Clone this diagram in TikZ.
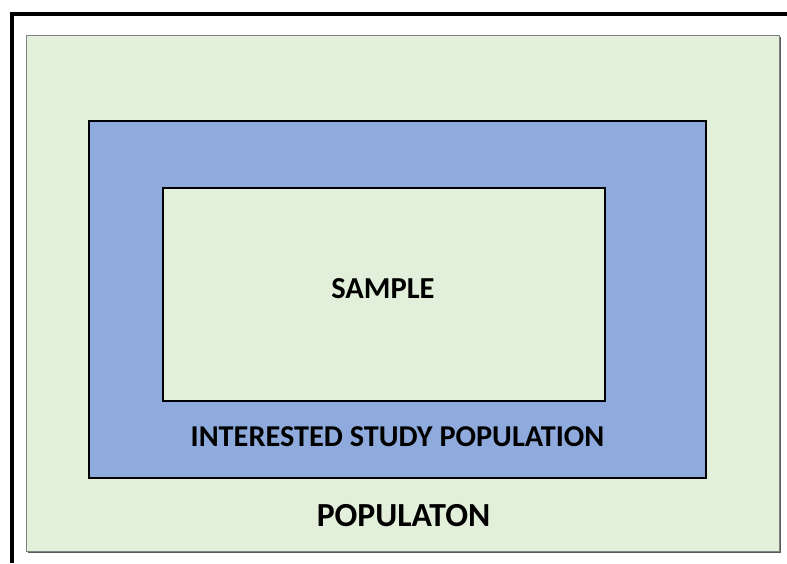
\documentclass[tikz,border=0pt]{standalone}
\usepackage{fontspec}
\setmainfont{Carlito}
\definecolor{palegreen}{HTML}{E2EFDA}
\definecolor{midblue}{HTML}{8FAADC}
\definecolor{framegray}{HTML}{808080}
\tikzset{
  lbl/.style={font=\bfseries, text=black, inner sep=0pt},
  innerbox/.style={draw=black, line width=1.6pt},
}
\begin{document}
\begin{tikzpicture}[x=1pt,y=-1pt]
\useasboundingbox (0,0) rectangle (787,563);
% outer frame (top and left)
\draw[line width=3.5pt] (12,563) -- (12,14) -- (787,14);
% population box
\fill[framegray!70!black] (28,37) rectangle (781,553);
\node[draw=framegray, line width=1pt, fill=palegreen, minimum width=753pt, minimum height=516pt, inner sep=0pt, anchor=north west] (pop) at (26,35) {};
% study population box
\node[innerbox, fill=midblue, minimum width=617pt, minimum height=357pt, inner sep=0pt, anchor=north west] (study) at (88,120) {};
% sample box
\node[innerbox, fill=palegreen, minimum width=442pt, minimum height=213pt, inner sep=0pt, anchor=north west] (sample) at (162,187) {};
% labels
\node[lbl, font=\fontsize{30.5}{34}\selectfont\bfseries] (tsample) at (383,289) {SAMPLE};
\node[lbl, font=\fontsize{30.3}{34}\selectfont\bfseries] (tstudy) at (397.5,437) {INTERESTED STUDY POPULATION};
\node[lbl, font=\fontsize{33.7}{38}\selectfont\bfseries] (tpop) at (403.5,516) {POPULATON};
\end{tikzpicture}
\end{document}
